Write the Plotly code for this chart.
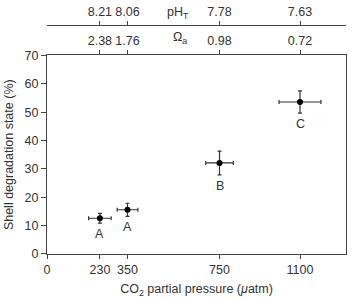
import plotly.graph_objects as go

pco2 = [230, 350, 750, 1100]
pco2_err = [49, 45, 60, 91]
degradation = [12.6, 15.6, 32.1, 53.6]
degradation_err = [1.7, 2.3, 4.2, 3.9]
letters = ["A", "A", "B", "C"]
omega_labels = ["2.38", "1.76", "0.98", "0.72"]
ph_labels = ["8.21", "8.06", "7.78", "7.63"]
x_ticks = [0, 230, 350, 750, 1100]
y_ticks = [0, 10, 20, 30, 40, 50, 60, 70]

W, H = 352, 299
ml, mr, mt, mb = 47, 5, 24, 42
plot_top_px = 55
paper_h = H - mt - mb
dom_top = (H - mb - plot_top_px) / paper_h

font = dict(family="Liberation Sans, Arial, sans-serif", size=12.5, color="#333")
line_col = "#444"

fig = go.Figure()
fig.add_trace(go.Scatter(
    x=pco2, y=degradation, mode="markers",
    marker=dict(color="black", size=6),
    error_x=dict(type="data", array=pco2_err, color="#333", thickness=1.2, width=2),
    error_y=dict(type="data", array=degradation_err, color="#333", thickness=1.2, width=2),
    showlegend=False, hoverinfo="skip",
))
# invisible traces so the top axes are drawn
fig.add_trace(go.Scatter(x=pco2, y=degradation, xaxis="x2", yaxis="y", mode="markers",
                         marker=dict(opacity=0), showlegend=False, hoverinfo="skip"))
fig.add_trace(go.Scatter(x=pco2, y=degradation, xaxis="x3", yaxis="y", mode="markers",
                         marker=dict(opacity=0), showlegend=False, hoverinfo="skip"))

for xv, yv, e, t in zip(pco2, degradation, degradation_err, letters):
    fig.add_annotation(x=xv, y=yv - e, text=t, showarrow=False, yanchor="top",
                       yshift=-2, font=font)

fig.add_annotation(xref="paper", yref="paper", x=(178 - ml) / (W - ml - mr), y=1.0,
                   yanchor="bottom", yshift=2, text="pH<sub>T</sub>", showarrow=False, font=font)
fig.add_annotation(xref="paper", yref="paper", x=(180 - ml) / (W - ml - mr), y=dom_top,
                   yanchor="bottom", yshift=7, text="Ω<sub>a</sub>", showarrow=False, font=font)

xr = [0, 1300]
fig.update_layout(
    width=W, height=H, margin=dict(l=ml, r=mr, t=mt, b=mb),
    paper_bgcolor="white", plot_bgcolor="white", font=font,
    xaxis=dict(range=xr, tickvals=x_ticks, showgrid=False, zeroline=False,
               showline=True, linecolor=line_col, linewidth=1,
               ticks="outside", ticklen=4, tickcolor=line_col,
               title=dict(text="CO<sub>2</sub> partial pressure (<i>μ</i>atm)", font=font, standoff=8)),
    xaxis2=dict(range=xr, overlaying="x", side="top", anchor="y",
                tickvals=pco2, ticktext=omega_labels, showgrid=False, zeroline=False,
                showline=True, linecolor=line_col, linewidth=1,
                ticks="outside", ticklen=4, tickcolor=line_col),
    xaxis3=dict(range=xr, overlaying="x", side="top", anchor="free", position=1.0,
                tickvals=pco2, ticktext=ph_labels, showgrid=False, zeroline=False,
                showline=True, linecolor=line_col, linewidth=1,
                ticks="outside", ticklen=4, tickcolor=line_col),
    yaxis=dict(range=[0, 70], tickvals=y_ticks, domain=[0, dom_top], showgrid=False,
               zeroline=False, showline=True, mirror=True, linecolor=line_col, linewidth=1,
               ticks="outside", ticklen=5, tickcolor=line_col,
               title=dict(text="Shell degradation state (%)", font=font, standoff=8)),
)

fig.write_html("out.html")
